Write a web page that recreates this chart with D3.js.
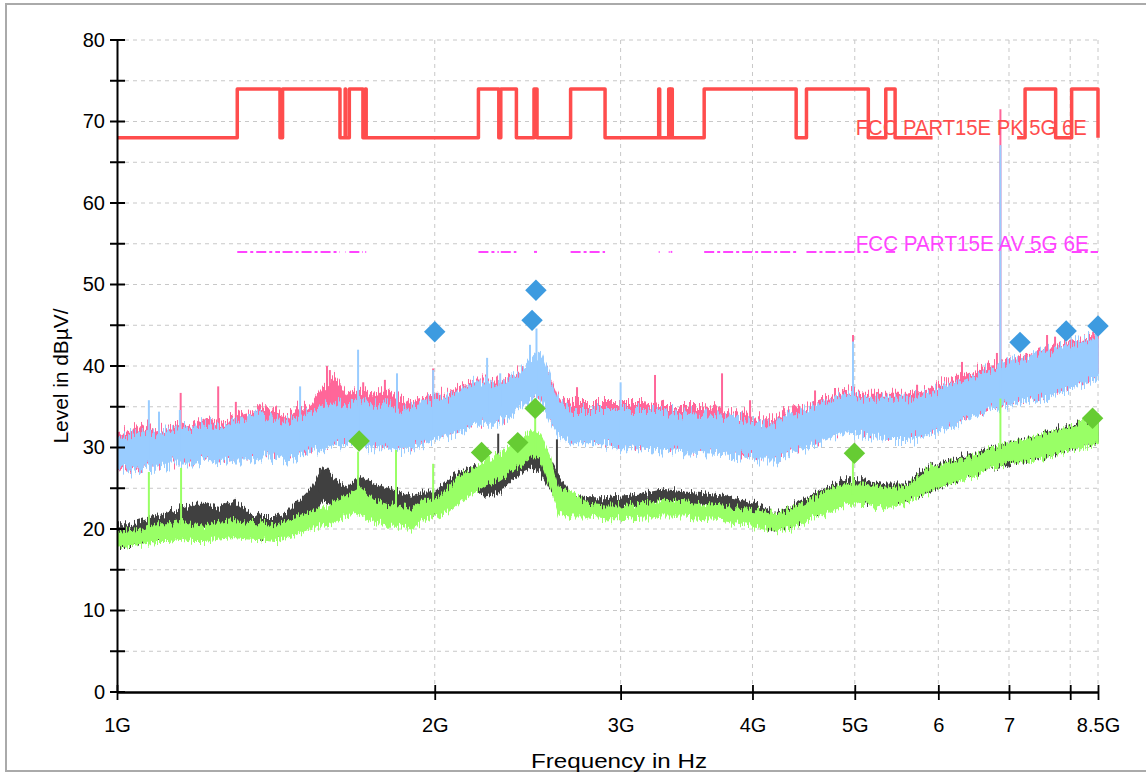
<!DOCTYPE html>
<html>
<head>
<meta charset="utf-8">
<script src="https://cdn.jsdelivr.net/npm/d3@7"></script>
<style>
  body { margin: 0; background: #fff; }
  text { font-family: "Liberation Sans", Arial, sans-serif; }
</style>
</head>
<body>
<div id="chart"></div>
<script>
// frequency samples (GHz) where the trace envelopes were read
var freqGHz = [1.00,1.03,1.06,1.09,1.12,1.15,1.18,1.21,1.25,1.29,
  1.33,1.37,1.41,1.45,1.49,1.53,1.57,1.61,1.65,1.70,
  1.75,1.80,1.85,1.90,1.95,2.00,2.06,2.12,2.18,2.24,
  2.30,2.36,2.42,2.47,2.52,2.57,2.62,2.70,2.80,2.90,
  3.00,3.15,3.30,3.45,3.60,3.75,3.90,4.05,4.20,4.35,
  4.50,4.70,4.90,5.10,5.35,5.60,5.85,6.10,6.40,6.70,
  7.00,7.30,7.60,7.90,8.20,8.50];

// peak detector, max hold (pink)
var pinkLow = [28,27.5,28,28,28.5,28.5,28.5,29,28.5,29,
  29,29.5,29.5,29,29.5,30,30.5,31,31,31.5,
  30.5,30.5,30,30.5,31,31.5,32,32.5,33.5,33.5,
  33.5,34.5,35.5,36.5,36.5,34,32,31,31,31,
  30.5,30.5,30.2,30,29.9,29.8,29.5,29,29,30,
  30.5,31.5,32.5,32,31.5,31.5,32,33,34,35,
  35.8,36.3,36.7,37.5,38.3,39];
var pinkHigh = [31.5,32,32.5,32,32.5,33,32.5,33.5,33,33.5,
  34,35,34.5,34,34.5,35.5,37.5,38.5,36.5,37,
  36.5,37,36,35.5,36,36.5,36.5,37.5,38,38,
  38,38.5,39.5,40,40,38.5,36,35.5,35.5,35.5,
  35.5,35.5,35,35,35,34.5,34,33.5,33.5,34.5,
  35,36,37,36.5,36.5,36.5,37,38,39,40,
  40.5,41.2,42,42.7,43.2,43.8];

// peak detector, clear write (light blue)
var blueLow = [27.5,27,27.5,27.5,28,28,28,28.5,28,28.5,
  28.5,29,29,28.5,29,29.5,30,30.5,30.5,31,
  30,30,29.5,30,30.5,31,31.5,32,33,33,
  33,34,35,36,36,33.5,31.5,30.5,30.5,30.5,
  30,30,29.7,29.5,29.4,29.3,29,28.5,28.5,29.5,
  30,31,32,31.5,31,31,31.5,32.5,33.5,34.5,
  35.3,35.8,36.2,37,37.8,38.5];
var blueHigh = [31,31.5,32,31.5,32,32.5,32,33,32.5,33,
  33.5,34,33.5,33,34,34.5,35,35.5,35,36,
  35,35.5,34.5,35,35.5,36,36,37,38,38,
  37.5,38.5,39.5,41,41.5,38.5,35.5,34.5,34.5,34.5,
  34.5,34.5,34.5,34.2,34,33.8,33.5,33,33,34,
  34.5,35.5,36.5,36,36,36,36.5,37.5,38.5,39.5,
  40.3,41,41.8,42.5,43,43.5];

// average detector, max hold (dark grey)
var greyLow = [18,18,18.5,19,19,19.5,19.5,20,20,20,
  19.5,19,19,19.5,20.5,21.5,23.5,23,22.5,23,
  22.5,22.5,22,22,22,22,23,24,25,24,
  24.5,26,27,27.5,27,25,23.5,22.5,22.5,22.5,
  22.5,23,23.3,23,22.8,22.5,22,21,20,20.5,
  21.5,22.5,23.5,23.5,23,23.5,24.5,25.5,26.5,27.5,
  28,28.5,29,29.5,30.2,30.8];
var greyHigh = [20.5,20.5,21,21.5,22,22.5,23,23,22.5,23.5,
  22,21.5,21.5,22,23.5,25,27.5,26,25,26.5,
  25.5,25,24.5,24,24.5,24.5,26,27,27.5,27,
  27.5,28.5,29.5,30,29.5,28.5,26.5,24,23.8,23.8,
  24,24.3,24.8,24.5,24.3,24,23.5,23,22,22.8,
  23.8,25,26,26,25.5,25.5,27.5,28.3,29,29.8,
  30.5,31,31.8,32.3,33,33.5];

// average detector, clear write (green)
var greenLow = [17.8,18,18.2,18.5,18.5,18.8,18.5,18.5,18.8,19,
  18.8,18.7,18.5,19,19.5,20,20.5,21,21.5,22,
  21,20.5,20.5,20,21,21.5,22,23.5,24.5,25.5,
  26,27,28,29,28.5,25.5,22,21.5,21.5,21.3,
  21.3,21.5,21.5,21.5,21.3,21.2,20.8,20.3,19.8,20,
  21,22,23,23.2,22.5,23.2,24.5,25.5,26.3,27.3,
  28,28.5,28.8,29.5,30,30.5];
var greenHigh = [19.5,19.8,20,20.5,20.5,20.8,20.5,20.3,20.8,21,
  20.8,20.7,20.5,21,21.5,22,22.5,23.5,24,25,
  23.5,23,22.8,22.5,23.5,23.5,25,26.5,27.5,28.5,
  29,30,31,32,31.5,29,25,24.5,23,22.8,
  22.8,23.2,23.5,23.3,23,22.8,22.5,22.3,21.8,22.3,
  23.3,24.7,25.5,25.5,25,25.2,27.3,28,28.8,29.7,
  30.5,31,31.8,32.3,33,33.5];

// narrow spikes [GHz, top dBuV]
var pinkSpikes = [[1.149,36.7],[1.247,37.5],[1.296,35.6],[1.39,33.4],[1.581,40],[1.591,39.5],
  [1.711,38],[1.794,38.3],[1.993,39.7],[2.728,37.4],[3.234,38.9],[3.743,39.1],[3.979,35.8],
  [4.585,37],[4.789,37.3],[4.981,43.8],[5.248,36.8],[5.728,37.7],[6.318,40.5],[6.818,41.6],
  [6.87,71.5],[7.606,43.8],[7.74,43.6],[8.41,44.2]];
var blueSpikes = [[1.0,36],[1.072,35.8],[1.096,34.4],[1.147,34.6],[1.491,37.5],[1.692,42],
  [1.842,39.1],[1.993,39.5],[2.242,41],[2.307,39.1],[2.462,42.6],[2.497,44.6],[3.0,38],
  [4.981,43],[6.87,67.1]];
var greySpikes = [[1.557,27.5],[2.297,31.7],[2.611,31]];
var greenSpikes = [[1.072,27],[1.15,27.5],[1.692,29.5],[1.838,29.7],[1.993,28],[2.49,34],
  [4.98,28.5],[6.87,36]];

// final measurement markers [GHz, dBuV]
var peakMarkers = [[2.0,44.2],[2.473,45.6],[2.494,49.3],[7.17,42.9],[7.93,44.3],[8.5,44.9]];
var avgMarkers = [[1.696,30.8],[2.215,29.4],[2.397,30.6],[2.49,34.8],[4.996,29.3],[8.40,33.6]];

// limits
var restrictedBands = [[1.3,1.427],[1.435,1.6265],[1.645,1.6465],[1.66,1.71],[1.7188,1.7222],
  [2.2,2.3],[2.31,2.39],[2.4835,2.5],[2.69,2.9],[3.26,3.267],[3.332,3.339],[3.3458,3.358],
  [3.6,4.4],[4.5,5.15],[5.35,5.46],[7.25,7.75],[8.025,8.5]];
var limitSpans = [[1.0,5.925],[7.125,8.5]];
var pkBase = 68, pkRestricted = 74, avRestricted = 54;

var xTicks = [1,2,3,4,5,6,7,8,8.5];
var xTickLabels = ["1G","2G","3G","4G","5G","6","7","","8.5G"];
var yTicks = [0,10,20,30,40,50,60,70,80];

var margin = {top: 40, right: 48, bottom: 81, left: 117},
    W = 1146, H = 773,
    width = W - margin.left - margin.right,
    height = H - margin.top - margin.bottom;

var svg = d3.select("#chart").append("svg")
  .attr("width", W).attr("height", H);

// outer frame
svg.append("rect")
  .attr("x", 6).attr("y", 4).attr("width", W + 10).attr("height", 767)
  .attr("fill", "none").attr("stroke", "#aaaaaa").attr("stroke-width", 2);

var g = svg.append("g")
  .attr("transform", "translate(" + margin.left + "," + margin.top + ")");

var x = d3.scaleLog().domain([1, 8.5]).range([0, width]);
var y = d3.scaleLinear().domain([0, 80]).range([height, 0]);

// grid
g.append("g").selectAll("line").data(d3.range(5, 81, 5)).enter().append("line")
  .attr("x1", 0).attr("x2", width)
  .attr("y1", function(d){ return y(d); }).attr("y2", function(d){ return y(d); })
  .attr("stroke", "#c8c8c8").attr("stroke-dasharray", "4,4");
g.append("g").selectAll("line").data(xTicks.slice(1)).enter().append("line")
  .attr("x1", function(d){ return x(d); }).attr("x2", function(d){ return x(d); })
  .attr("y1", 0).attr("y2", height)
  .attr("stroke", "#c8c8c8").attr("stroke-dasharray", "4,4");

var defs = svg.append("defs");
defs.append("clipPath").attr("id", "plot").append("rect")
  .attr("x", 0).attr("y", -30).attr("width", width + 2).attr("height", height + 30);

// ragged edges so the filled envelopes read like a dense receiver sweep
function roughFilter(id, scale, seed) {
  var f = defs.append("filter").attr("id", id)
    .attr("x", "-1%").attr("y", "-30%").attr("width", "102%").attr("height", "160%");
  f.append("feTurbulence").attr("type", "fractalNoise")
    .attr("baseFrequency", "0.7 0.02").attr("numOctaves", 2).attr("seed", seed)
    .attr("result", "n");
  f.append("feColorMatrix").attr("in", "n").attr("type", "matrix")
    .attr("values", "1 0 0 0 0  0 0 0 0 0.5  0 0 1 0 0  0 0 0 0 1").attr("result", "m");
  f.append("feDisplacementMap").attr("in", "SourceGraphic").attr("in2", "m")
    .attr("scale", scale).attr("xChannelSelector", "G").attr("yChannelSelector", "R");
}
roughFilter("roughPk", 26, 3);
roughFilter("roughPk2", 26, 7);
roughFilter("roughAv", 16, 11);
roughFilter("roughAv2", 16, 5);

var plot = g.append("g").attr("clip-path", "url(#plot)");

function band(lo, hi, color, filter) {
  var area = d3.area()
    .x(function(d, i){ return x(freqGHz[i]); })
    .y0(function(d, i){ return y(lo[i]); })
    .y1(function(d, i){ return y(hi[i]); });
  plot.append("g").attr("filter", "url(#" + filter + ")")
    .append("path").datum(freqGHz)
    .attr("d", area)
    .attr("fill", color).attr("stroke", color).attr("stroke-width", 1.5);
}

var bis = d3.bisector(function(d){ return d; }).left;
function spikes(list, lo, color) {
  plot.append("g").selectAll("line").data(list).enter().append("line")
    .attr("x1", function(d){ return x(d[0]); }).attr("x2", function(d){ return x(d[0]); })
    .attr("y1", function(d){ return y(d[1]); })
    .attr("y2", function(d){
      var i = Math.min(bis(freqGHz, d[0]), freqGHz.length - 1);
      return y(lo[i] + 1);
    })
    .attr("stroke", color).attr("stroke-width", 2);
}

band(pinkLow, pinkHigh, "#ff6699", "roughPk");
spikes(pinkSpikes, pinkLow, "#ff6699");
band(blueLow, blueHigh, "#99ccff", "roughPk2");
spikes(blueSpikes, blueLow, "#99ccff");
band(greyLow, greyHigh, "#404040", "roughAv");
spikes(greySpikes, greyLow, "#404040");
band(greenLow, greenHigh, "#99ff66", "roughAv2");
spikes(greenSpikes, greenLow, "#99ff66");

// peak limit: 68 outside restricted bands, 74 inside
limitSpans.forEach(function(span) {
  var pts = [[span[0], pkBase]];
  restrictedBands.forEach(function(b) {
    if (b[0] >= span[0] && b[1] <= span[1]) {
      pts.push([b[0], pkBase], [b[0], pkRestricted], [b[1], pkRestricted], [b[1], pkBase]);
    }
  });
  pts.push([span[1], pkBase]);
  g.append("path").datum(pts)
    .attr("d", d3.line().x(function(d){ return x(d[0]); }).y(function(d){ return y(d[1]); }))
    .attr("fill", "none").attr("stroke", "#ff4d4d").attr("stroke-width", 3.5)
    .attr("stroke-linejoin", "round");
});

// average limit, only in restricted bands
g.append("g").selectAll("line").data(restrictedBands).enter().append("line")
  .attr("x1", function(d){ return x(d[0]); }).attr("x2", function(d){ return x(d[1]); })
  .attr("y1", y(avRestricted)).attr("y2", y(avRestricted))
  .attr("stroke", "#ff44ff").attr("stroke-width", 2)
  .attr("stroke-dasharray", "10,3,3,3");

// limit labels
g.append("text").attr("x", x(5.01)).attr("y", y(pkBase) - 3)
  .attr("fill", "#ff4d4d").attr("font-size", 22)
  .attr("textLength", 231).attr("lengthAdjust", "spacingAndGlyphs")
  .text("FCC PART15E PK  5G 6E");
g.append("text").attr("x", x(5.01)).attr("y", y(avRestricted) - 1)
  .attr("fill", "#ff44ff").attr("font-size", 22)
  .attr("textLength", 233).attr("lengthAdjust", "spacingAndGlyphs")
  .text("FCC PART15E AV  5G 6E");

// markers
var diamond = d3.symbol().type(d3.symbolSquare).size(230);
g.append("g").selectAll("path").data(peakMarkers).enter().append("path")
  .attr("d", diamond)
  .attr("transform", function(d){ return "translate(" + x(d[0]) + "," + y(d[1]) + ") rotate(45)"; })
  .attr("fill", "#3d9be0");
g.append("g").selectAll("path").data(avgMarkers).enter().append("path")
  .attr("d", diamond)
  .attr("transform", function(d){ return "translate(" + x(d[0]) + "," + y(d[1]) + ") rotate(45)"; })
  .attr("fill", "#66cc33");

// axes
var yAxis = g.append("g").call(d3.axisLeft(y).tickValues(yTicks).tickSize(0).tickPadding(12));
yAxis.select(".domain").attr("stroke-width", 2);
yAxis.selectAll("text").attr("font-size", 20).attr("fill", "#000")
  .style("font-family", "'Liberation Sans', Arial, sans-serif");
g.append("g").selectAll("line").data(d3.range(0, 81, 5)).enter().append("line")
  .attr("x1", -7).attr("x2", 8)
  .attr("y1", function(d){ return y(d); }).attr("y2", function(d){ return y(d); })
  .attr("stroke", "#000").attr("stroke-width", 2);

var xAxis = g.append("g").attr("transform", "translate(0," + height + ")")
  .call(d3.axisBottom(x).tickValues(xTicks).tickSize(0).tickPadding(26)
    .tickFormat(function(d, i){ return xTickLabels[i]; }));
xAxis.select(".domain").attr("stroke-width", 2.5);
xAxis.selectAll("text").attr("font-size", 20).attr("fill", "#000")
  .style("font-family", "'Liberation Sans', Arial, sans-serif");
xAxis.selectAll(".tick").append("line")
  .attr("y1", -7).attr("y2", 8).attr("stroke", "#000").attr("stroke-width", 1.8);

// axis titles
svg.append("text")
  .attr("transform", "translate(68," + 376 + ") rotate(-90)")
  .attr("text-anchor", "middle").attr("font-size", 20)
  .attr("textLength", 135).attr("lengthAdjust", "spacingAndGlyphs")
  .text("Level in dBµV/");
svg.append("text")
  .attr("x", 619).attr("y", 768).attr("text-anchor", "middle").attr("font-size", 21)
  .attr("textLength", 176).attr("lengthAdjust", "spacingAndGlyphs")
  .text("Frequency in Hz");
</script>
</body>
</html>
